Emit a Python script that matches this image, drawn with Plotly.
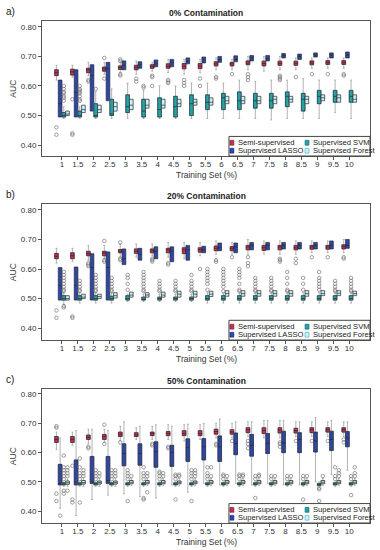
import plotly.graph_objects as go

# ---------------- data ----------------
training_set = ["1", "1.5", "2", "2.5", "3", "3.5", "4", "4.5", "5", "5.5",
                "6", "6.5", "7", "7.5", "8", "8.5", "9", "9.5", "10"]
series_names = ["Semi-supervised", "Supervised LASSO", "Supervised SVM", "Supervised Forest"]
panel_titles = ["0% Contamination", "20% Contamination", "50% Contamination"]
panel_labels = ["a)", "b)", "c)"]
x_title = "Training Set (%)"
y_title = "AUC"
y_ticks = [0.40, 0.50, 0.60, 0.70, 0.80]

# ---- panel a: 0% contamination ----
a_semi_q1  = [.635, .637, .645, .650, .656, .655, .660, .660, .658, .659, .668, .668, .672, .668, .670, .670, .672, .673, .673]
a_semi_med = [.645, .648, .655, .658, .662, .662, .665, .667, .667, .667, .675, .675, .678, .676, .677, .677, .678, .679, .679]
a_semi_q3  = [.655, .657, .660, .664, .668, .670, .672, .675, .676, .676, .682, .680, .685, .684, .684, .684, .685, .686, .686]
a_semi_lo  = [.620, .630, .635, .640, .645, .640, .650, .645, .640, .645, .655, .655, .655, .650, .655, .655, .660, .660, .660]
a_semi_hi  = [.670, .670, .680, .680, .680, .685, .680, .690, .690, .690, .695, .690, .700, .700, .700, .695, .695, .695, .695]
a_semi_out = [[.46, .435], [.44, .435, .555], [.62, .615], [.625, .695], [.635, .64, .69, .685], [.625, .615],
              [.635, .63, .60], [.62, .615, .61], [.62, .61, .60], [.625, .60], [.63, .625], [.64], [.64, .63, .62],
              [], [.635, .63, .625, .62], [.63], [.64], [.64], [.64, .635]]

a_lasso_q1  = [.495, .495, .515, .550, .655, .660, .665, .665, .675, .678, .680, .682, .685, .685, .695, .690, .698, .695, .695]
a_lasso_med = [.540, .578, .635, .660, .670, .672, .675, .680, .683, .688, .690, .690, .695, .693, .703, .700, .705, .705, .705]
a_lasso_q3  = [.620, .655, .672, .680, .685, .682, .688, .690, .695, .698, .700, .702, .703, .703, .710, .708, .712, .712, .715]
a_lasso_lo  = [.445, .465, .445, .490, .625, .630, .640, .640, .650, .655, .655, .660, .660, .665, .675, .670, .680, .680, .680]
a_lasso_hi  = [.695, .700, .710, .710, .715, .715, .715, .725, .720, .720, .725, .730, .730, .730, .730, .730, .730, .730, .735]
a_lasso_out = [[], [], [], [], [], [], [], [], [], [], [], [], [.645, .625], [], [.655], [.655], [], [], []]

a_svm_q1  = [.495, .495, .495, .500, .510, .495, .495, .495, .500, .520, .520, .520, .525, .525, .530, .515, .540, .545, .545]
a_svm_med = [.500, .500, .500, .505, .530, .515, .520, .530, .540, .545, .560, .550, .550, .550, .565, .555, .565, .565, .565]
a_svm_q3  = [.510, .515, .540, .555, .570, .555, .560, .565, .570, .570, .575, .580, .575, .575, .580, .575, .585, .585, .585]
a_svm_lo  = [.490, .490, .490, .490, .490, .490, .490, .490, .490, .490, .490, .490, .490, .485, .490, .490, .490, .510, .490]
a_svm_hi  = [.530, .530, .580, .590, .610, .585, .600, .600, .610, .610, .610, .620, .615, .620, .620, .625, .620, .620, .620]
a_svm_out = [[.55, .56, .565, .575, .58, .59, .60], [.55, .555, .565, .575, .58, .585, .59, .60], [.59], [], [],
             [.60, .595], [], [], [], [], [], [.535], [], [], [], [.55], [], [], []]

a_forest_q1  = [.500, .510, .510, .515, .520, .525, .525, .530, .535, .535, .540, .540, .540, .540, .545, .540, .550, .545, .545]
a_forest_med = [.505, .520, .520, .530, .535, .535, .535, .540, .545, .545, .550, .550, .550, .555, .555, .555, .560, .560, .555]
a_forest_q3  = [.515, .535, .535, .545, .555, .555, .555, .555, .555, .560, .565, .565, .565, .565, .565, .565, .570, .570, .570]
a_forest_lo  = [.490, .490, .495, .495, .495, .505, .500, .505, .510, .510, .515, .515, .515, .515, .520, .515, .525, .520, .520]
a_forest_hi  = [.530, .560, .565, .585, .590, .585, .590, .590, .580, .585, .590, .590, .595, .595, .595, .600, .600, .600, .600]
a_forest_out = [[], [], [], [], [], [], [], [], [], [], [], [], [.50], [], [], [], [], [], [.50]]

# ---- panel b: 20% contamination ----
b_semi_q1  = [.635, .635, .645, .645, .655, .653, .655, .655, .652, .657, .662, .662, .665, .663, .665, .665, .667, .667, .668]
b_semi_med = [.643, .645, .652, .655, .660, .660, .662, .665, .665, .665, .670, .670, .675, .672, .675, .672, .675, .675, .676]
b_semi_q3  = [.653, .655, .660, .660, .666, .668, .668, .670, .672, .672, .678, .676, .680, .680, .680, .680, .680, .680, .682]
b_semi_lo  = [.620, .625, .630, .635, .640, .640, .645, .640, .635, .645, .650, .650, .650, .650, .650, .650, .655, .655, .655]
b_semi_hi  = [.670, .670, .680, .680, .685, .685, .685, .690, .690, .690, .695, .690, .700, .695, .695, .695, .695, .695, .700]
b_semi_out = [[.46, .435], [.44, .435], [.62, .615, .61], [.695, .63, .625], [.685, .69, .64, .635, .63], [],
              [.635, .63, .625], [.62, .615], [], [.60], [.63, .625], [.64], [.64, .62, .61], [],
              [.635, .63, .625], [.635, .62], [.64], [.64], [.64, .635]]

b_lasso_q1  = [.495, .495, .495, .495, .615, .630, .635, .625, .630, .655, .662, .655, .665, .665, .668, .668, .668, .668, .670]
b_lasso_med = [.545, .545, .605, .605, .635, .650, .660, .660, .665, .665, .672, .675, .680, .680, .680, .680, .680, .680, .680]
b_lasso_q3  = [.605, .607, .652, .658, .668, .670, .675, .675, .680, .677, .688, .688, .690, .690, .690, .690, .690, .695, .700]
b_lasso_lo  = [.420, .440, .465, .435, .495, .530, .555, .540, .550, .600, .635, .620, .635, .640, .645, .645, .645, .640, .645]
b_lasso_hi  = [.685, .690, .715, .710, .720, .705, .705, .705, .710, .710, .710, .725, .720, .720, .715, .720, .720, .725, .720]
b_lasso_out = [[], [], [], [], [], [], [], [], [.445], [], [.625], [], [.61], [.60], [.625, .62], [.615], [.595], [.60], []]

b_svm_q1  = [.495, .495, .495, .495, .495, .495, .495, .495, .495, .495, .495, .495, .495, .495, .495, .495, .495, .495, .495]
b_svm_med = [.500, .500, .500, .500, .500, .498, .500, .500, .500, .500, .500, .500, .500, .500, .500, .500, .500, .500, .500]
b_svm_q3  = [.510, .510, .510, .508, .510, .505, .505, .505, .505, .510, .510, .510, .510, .510, .510, .510, .510, .510, .510]
b_svm_lo  = [.480, .485, .485, .485, .490, .490, .490, .490, .490, .485, .485, .485, .485, .485, .485, .485, .485, .485, .485]
b_svm_hi  = [.520, .520, .520, .520, .515, .515, .515, .515, .515, .520, .520, .520, .520, .520, .520, .520, .520, .520, .520]
b_svm_out = [[.525, .53, .54, .55, .56, .57, .58, .59, .47, .475], [.525, .53, .54, .55, .56],
             [.525, .53, .54, .55, .56, .57, .58], [.525, .53, .54, .55, .56, .57], [.53, .55, .57, .58],
             [.525, .53, .54, .55, .56, .57, .58, .59], [.525, .53, .54, .55, .56], [.525, .53, .54, .55, .56],
             [.525, .53, .54, .55, .56, .58], [.53, .55, .56, .57, .58, .59, .60], [.525, .54, .55, .56, .57, .58, .59, .60],
             [.525, .53, .55, .57, .58, .59, .60], [.525, .53, .54, .55, .56, .57], [.525, .53, .54, .55, .56, .57],
             [.525, .53, .55, .57, .59], [.53, .55, .57], [.53, .54, .55, .56, .57, .59], [.525, .53, .54, .55, .56],
             [.525, .53, .54, .55, .56, .57]]

b_forest_q1  = [.495, .500, .500, .502, .505, .505, .505, .505, .505, .507, .508, .508, .508, .508, .508, .508, .510, .510, .510]
b_forest_med = [.500, .505, .507, .510, .512, .512, .512, .515, .515, .515, .517, .517, .517, .517, .517, .517, .517, .518, .517]
b_forest_q3  = [.510, .515, .515, .520, .522, .520, .522, .525, .525, .525, .527, .527, .527, .527, .527, .527, .527, .527, .525]
b_forest_lo  = [.485, .490, .490, .490, .490, .490, .490, .490, .490, .490, .490, .490, .490, .490, .490, .490, .490, .490, .490]
b_forest_hi  = [.530, .540, .545, .550, .555, .550, .555, .560, .555, .560, .560, .560, .560, .560, .560, .560, .560, .560, .555]
b_forest_out = [[], [.55, .56], [.56, .57], [.57], [.57, .58, .59], [.57], [.57], [.58], [.57], [], [], [], [.575],
                [], [.57], [.58], [], [.58], []]

# ---- panel c: 50% contamination ----
c_semi_q1  = [.635, .635, .645, .645, .655, .655, .658, .658, .658, .658, .663, .663, .668, .665, .667, .667, .668, .670, .670]
c_semi_med = [.645, .645, .652, .655, .662, .660, .665, .665, .665, .665, .672, .670, .678, .675, .677, .675, .678, .678, .678]
c_semi_q3  = [.655, .655, .660, .662, .670, .668, .670, .672, .675, .675, .680, .678, .685, .685, .685, .683, .685, .685, .685]
c_semi_lo  = [.610, .625, .630, .635, .640, .645, .645, .645, .640, .645, .650, .650, .655, .650, .650, .655, .655, .655, .655]
c_semi_hi  = [.670, .670, .680, .680, .690, .685, .690, .695, .695, .695, .700, .700, .705, .710, .710, .705, .705, .705, .705]
c_semi_out = [[.46, .435, .685, .69], [.555, .44, .43], [.62, .615], [.63, .695], [.64, .635, .685], [], [.63, .625],
              [.62, .615], [], [], [.63, .625], [.64], [.64, .63, .615], [], [.635, .63, .62], [.64], [.64], [.64],
              [.645, .635]]

c_lasso_q1  = [.490, .490, .495, .495, .555, .557, .550, .553, .570, .575, .570, .593, .588, .597, .600, .600, .602, .607, .620]
c_lasso_med = [.495, .500, .500, .505, .597, .597, .603, .600, .617, .620, .620, .630, .625, .632, .633, .645, .640, .645, .650]
c_lasso_q3  = [.560, .575, .587, .587, .630, .630, .637, .625, .647, .648, .657, .667, .662, .665, .673, .668, .670, .673, .672]
c_lasso_lo  = [.410, .385, .440, .455, .460, .450, .445, .490, .465, .495, .490, .495, .490, .495, .490, .490, .500, .525, .540]
c_lasso_hi  = [.650, .675, .680, .675, .705, .690, .695, .690, .697, .700, .715, .705, .705, .710, .710, .705, .720, .710, .705]
c_lasso_out = [[.385], [], [], [], [], [], [], [], [], [], [], [], [], [], [], [], [], [], []]

c_svm_q1  = [.490, .490, .490, .490, .490, .490, .490, .490, .490, .490, .490, .490, .490, .490, .490, .490, .488, .490, .490]
c_svm_med = [.492, .492, .492, .492, .493, .492, .492, .492, .492, .492, .493, .492, .493, .492, .492, .492, .490, .492, .492]
c_svm_q3  = [.497, .497, .497, .497, .497, .497, .497, .497, .497, .497, .497, .497, .497, .497, .497, .497, .495, .497, .497]
c_svm_lo  = [.485, .485, .485, .485, .485, .485, .485, .485, .485, .485, .485, .485, .485, .485, .485, .485, .482, .485, .485]
c_svm_hi  = [.500, .500, .500, .500, .500, .500, .500, .500, .500, .500, .500, .500, .500, .500, .500, .500, .500, .500, .500]
c_svm_out = [[.51, .52, .53, .54, .55, .59, .47, .46], [.51, .52, .53, .55, .58, .43], [.51, .52, .53, .54],
             [.51, .52, .53, .54], [.51, .52, .53, .54, .435], [.51, .52, .53, .55, .445, .44], [.51, .52, .53, .535],
             [.51, .52, .525, .44], [.51, .52, .53, .54, .435], [.51, .52, .53, .55], [.51, .52, .525],
             [.51, .52, .525], [.51, .52, .445], [.51, .52], [.51, .52], [.51, .52, .44], [.475, .48, .435],
             [.51, .52, .55], [.51, .52, .455]]

c_forest_q1  = [.492, .493, .493, .493, .494, .494, .494, .494, .494, .494, .494, .494, .494, .494, .494, .494, .494, .494, .494]
c_forest_med = [.497, .498, .498, .498, .499, .499, .499, .499, .499, .499, .499, .499, .499, .499, .499, .499, .499, .499, .499]
c_forest_q3  = [.503, .505, .503, .503, .505, .505, .505, .503, .503, .505, .505, .505, .505, .505, .505, .505, .505, .505, .505]
c_forest_lo  = [.485, .485, .485, .485, .487, .487, .487, .487, .487, .487, .487, .487, .487, .487, .487, .487, .487, .487, .487]
c_forest_hi  = [.510, .515, .512, .512, .512, .512, .512, .512, .512, .512, .512, .512, .512, .512, .512, .512, .512, .512, .512]
c_forest_out = [[.52, .53, .54, .55, .47], [.52, .53, .54], [.52, .53], [.52, .53, .54], [.52], [.52, .53, .465],
                [.52, .53], [.52, .525], [.52, .53, .54], [.52, .55], [.52], [.52, .525], [.52, .525], [.52],
                [.52], [.52], [.52], [.52, .53, .54], [.52, .53, .55]]

panels = [
    [(a_semi_q1, a_semi_med, a_semi_q3, a_semi_lo, a_semi_hi, a_semi_out),
     (a_lasso_q1, a_lasso_med, a_lasso_q3, a_lasso_lo, a_lasso_hi, a_lasso_out),
     (a_svm_q1, a_svm_med, a_svm_q3, a_svm_lo, a_svm_hi, a_svm_out),
     (a_forest_q1, a_forest_med, a_forest_q3, a_forest_lo, a_forest_hi, a_forest_out)],
    [(b_semi_q1, b_semi_med, b_semi_q3, b_semi_lo, b_semi_hi, b_semi_out),
     (b_lasso_q1, b_lasso_med, b_lasso_q3, b_lasso_lo, b_lasso_hi, b_lasso_out),
     (b_svm_q1, b_svm_med, b_svm_q3, b_svm_lo, b_svm_hi, b_svm_out),
     (b_forest_q1, b_forest_med, b_forest_q3, b_forest_lo, b_forest_hi, b_forest_out)],
    [(c_semi_q1, c_semi_med, c_semi_q3, c_semi_lo, c_semi_hi, c_semi_out),
     (c_lasso_q1, c_lasso_med, c_lasso_q3, c_lasso_lo, c_lasso_hi, c_lasso_out),
     (c_svm_q1, c_svm_med, c_svm_q3, c_svm_lo, c_svm_hi, c_svm_out),
     (c_forest_q1, c_forest_med, c_forest_q3, c_forest_lo, c_forest_hi, c_forest_out)],
]

# ---------------- style ----------------
FONT = "Liberation Sans, Arial, sans-serif"
fills = ["#C92F52", "#2C47AC", "#23A3A8", "#C9F1FA"]
edges = ["#6b1a2c", "#182a6e", "#136266", "#3aa9c4"]
y_domains = [[0.7311, 1.0], [0.3645, 0.6355], [0.0, 0.2669]]
y_ranges = [[0.363, 0.82], [0.36, 0.82], [0.36, 0.817]]

fig = go.Figure()
for p, panel in enumerate(panels):
    xa = "x" if p == 0 else f"x{p + 1}"
    ya = "y" if p == 0 else f"y{p + 1}"
    for s, (q1, med, q3, lo, hi, out) in enumerate(panel):
        # whiskers + outliers (grey)
        fig.add_trace(go.Box(
            x=training_set, y=out, q1=q1, median=med, q3=q3, lowerfence=lo, upperfence=hi,
            name=series_names[s], xaxis=xa, yaxis=ya, offsetgroup=series_names[s],
            alignmentgroup=f"p{p}", boxpoints="outliers", pointpos=0, jitter=0,
            fillcolor="rgba(0,0,0,0)", line=dict(color="#a0a0a0", width=0.8), whiskerwidth=0.5,
            marker=dict(symbol="circle-open", size=3.5, color="#777777", line=dict(width=0.7)),
            showlegend=False, hoverinfo="skip"))
        # box body
        fig.add_trace(go.Box(
            x=training_set, q1=q1, median=med, q3=q3, lowerfence=q1, upperfence=q3,
            name=series_names[s], xaxis=xa, yaxis=ya, offsetgroup=series_names[s],
            alignmentgroup=f"p{p}", boxpoints=False, whiskerwidth=0,
            fillcolor=fills[s], line=dict(color="#2a2a2a", width=0.7),
            showlegend=False))

layout_axes = {}
for p in range(3):
    sx = "" if p == 0 else str(p + 1)
    layout_axes[f"xaxis{sx}"] = dict(
        domain=[0, 1], anchor=f"y{sx}", type="category", range=[-1.25, 19.3], automargin=False,
        showline=True, mirror=True, linecolor="#555555", linewidth=1,
        ticks="outside", ticklen=3, tickcolor="#555555", showgrid=False, zeroline=False,
        ticklabelstandoff=-3,
        tickfont=dict(size=8, color="#333333", family=FONT))
    layout_axes[f"yaxis{sx}"] = dict(
        domain=y_domains[p], anchor=f"x{sx}", range=y_ranges[p], tickvals=y_ticks, tickformat=".2f",
        automargin=False,
        showline=True, mirror=True, linecolor="#555555", linewidth=1,
        ticks="outside", ticklen=3, tickcolor="#555555", showgrid=False, zeroline=False,
        tickfont=dict(size=8, color="#333333", family=FONT))

annotations = []
shapes = []
for p in range(3):
    sx = "" if p == 0 else str(p + 1)
    xr, yr = f"x{sx} domain", f"y{sx} domain"
    annotations.append(dict(text=f"<b>{panel_titles[p]}</b>", xref=xr, yref=yr, x=0.5, y=1.0,
                            xanchor="center", yanchor="bottom", yshift=1, showarrow=False,
                            font=dict(size=8.5, color="#222222", family=FONT)))
    annotations.append(dict(text=panel_labels[p], xref="paper", yref=yr, x=-0.115, y=1.0,
                            xanchor="left", yanchor="bottom", yshift=2, showarrow=False,
                            font=dict(size=10, color="#222222", family=FONT)))
    annotations.append(dict(text=x_title, xref=xr, yref=yr, x=0.5, y=0.0,
                            xanchor="center", yanchor="top", yshift=-12, showarrow=False,
                            font=dict(size=8.5, color="#333333", family=FONT)))
    annotations.append(dict(text=y_title, xref="paper", yref=yr, x=-0.088, y=0.5, textangle=-90,
                            xanchor="center", yanchor="middle", showarrow=False,
                            font=dict(size=8.5, color="#333333", family=FONT)))
    # legend box
    shapes.append(dict(type="rect", xref=xr, yref=yr, x0=0.57, x1=1.0, y0=0.0, y1=0.145,
                       line=dict(color="#444444", width=1), fillcolor="white", layer="above"))
    legend_pos = [(0.579, 0.098), (0.579, 0.039), (0.808, 0.098), (0.808, 0.039)]
    for s in range(4):
        mx, my = legend_pos[s]
        shapes.append(dict(type="rect", xref=xr, yref=yr, x0=mx - 0.006, x1=mx + 0.006,
                           y0=my - 0.018, y1=my + 0.018, fillcolor=fills[s],
                           line=dict(color=edges[s], width=0.6), layer="above"))
        annotations.append(dict(text=series_names[s], xref=xr, yref=yr, x=mx + 0.011, y=my,
                                xanchor="left", yanchor="middle", showarrow=False,
                                font=dict(size=7.6, color="#222222", family=FONT)))

fig.update_layout(
    width=380, height=550, margin=dict(l=42, r=10, t=21, b=27),
    paper_bgcolor="white", plot_bgcolor="white",
    boxmode="group", boxgap=0.08, boxgroupgap=0.0,
    showlegend=False, annotations=annotations, shapes=shapes,
    font=dict(family=FONT, size=9, color="#333333"),
    **layout_axes)

fig.write_html("out.html", config={"displayModeBar": False},
               post_script="document.body.style.margin='0';")
